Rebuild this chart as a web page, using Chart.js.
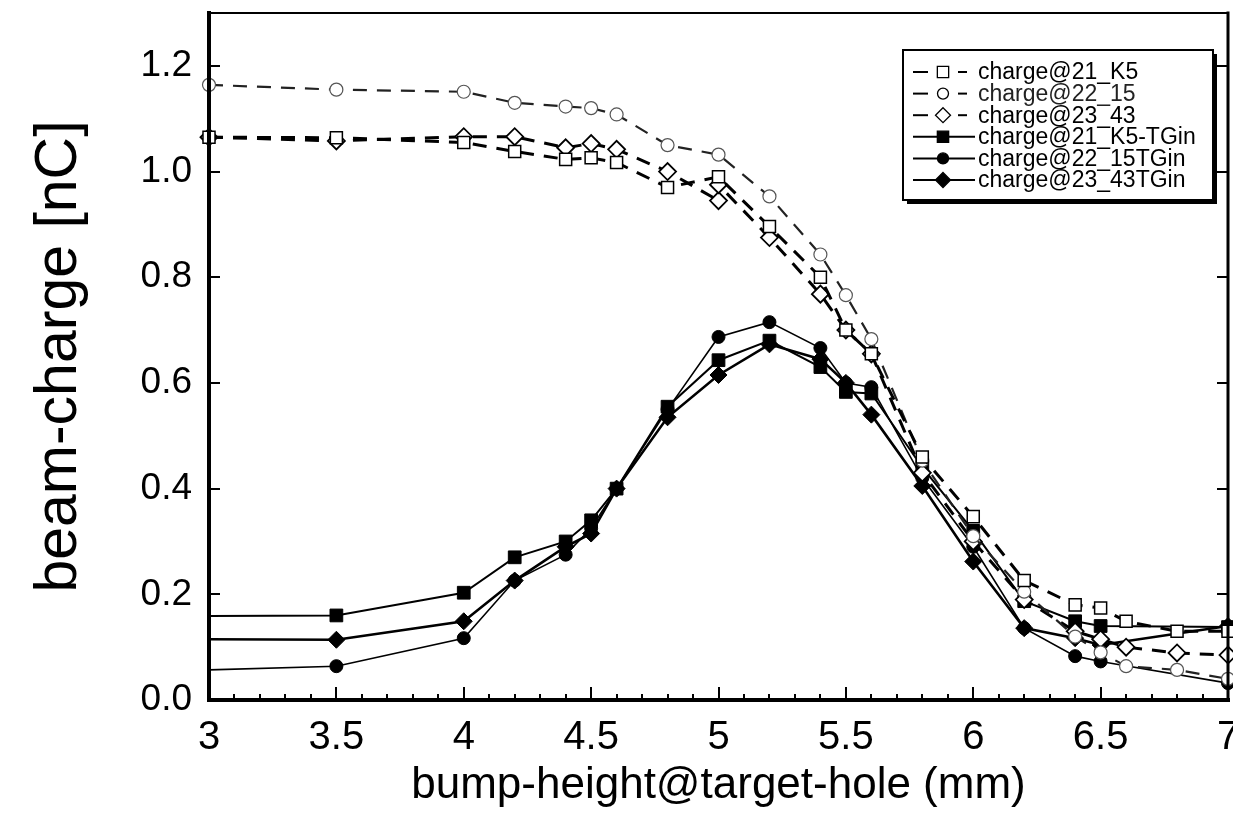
<!DOCTYPE html>
<html lang="en">
<head>
<meta charset="UTF-8">
<title>beam-charge vs bump-height</title>
<script src="https://cdn.jsdelivr.net/npm/chart.js@4"></script>
<style>
  html, body { margin: 0; padding: 0; background: #fff; }
  canvas { display: block; }
</style>
</head>
<body>
<canvas id="chart" width="1233" height="823"></canvas>
<script>
// bump height (mm) positions
const xOpen = [3, 3.5, 4, 4.2, 4.4, 4.5, 4.6, 4.8, 5, 5.2, 5.4, 5.5, 5.6, 5.8, 6, 6.2, 6.4, 6.5, 6.6, 6.8, 7];
const xOpenDiamond = [3, 3.5, 4, 4.2, 4.4, 4.5, 4.6, 4.8, 5, 5, 5.2, 5.4, 5.5, 5.6, 5.8, 6, 6.2, 6.4, 6.5, 6.6, 6.8, 7];
const xFilled = [3, 3.5, 4, 4.2, 4.4, 4.5, 4.6, 4.8, 5, 5.2, 5.4, 5.5, 5.6, 5.8, 6, 6.2, 6.4, 6.5, 7];

// beam charge (nC)
const charge21 = [1.065, 1.064, 1.055, 1.038, 1.023, 1.026, 1.017, 0.97, 0.99, 0.896, 0.80, 0.70, 0.655, 0.46, 0.347, 0.226, 0.18, 0.174, 0.149, 0.13, 0.13];
const charge22 = [1.164, 1.155, 1.151, 1.13, 1.123, 1.12, 1.108, 1.05, 1.032, 0.953, 0.843, 0.766, 0.683, 0.453, 0.31, 0.205, 0.12, 0.09, 0.064, 0.057, 0.04];
const charge23 = [1.065, 1.058, 1.066, 1.066, 1.045, 1.053, 1.042, 1.0, 0.945, 0.975, 0.875, 0.768, 0.70, 0.655, 0.43, 0.30, 0.19, 0.13, 0.115, 0.10, 0.089, 0.085];
const charge21TG = [0.159, 0.16, 0.203, 0.27, 0.30, 0.34, 0.40, 0.555, 0.643, 0.68, 0.63, 0.583, 0.58, 0.44, 0.32, 0.187, 0.149, 0.14, 0.138];
const charge22TG = [0.057, 0.064, 0.117, 0.226, 0.275, 0.325, 0.40, 0.55, 0.687, 0.715, 0.666, 0.60, 0.592, 0.42, 0.29, 0.136, 0.083, 0.073, 0.032];
const charge23TG = [0.115, 0.114, 0.149, 0.226, 0.29, 0.315, 0.40, 0.535, 0.615, 0.673, 0.645, 0.60, 0.54, 0.405, 0.262, 0.136, 0.117, 0.104, 0.14];

const seriesNames = ['charge@21_K5', 'charge@22_15', 'charge@23_43', 'charge@21_K5-TGin', 'charge@22_15TGin', 'charge@23_43TGin'];
const yTicks = [0, 0.2, 0.4, 0.6, 0.8, 1.0, 1.2];

const pts = (xs, ys) => xs.map((x, i) => ({ x: x, y: ys[i] }));

const DASH = [14, 10];
const noFirst = r => ctx => ctx.dataIndex === 0 ? 0 : r;

const datasets = [
  { label: seriesNames[0], data: pts(xOpen, charge21), pointStyle: 'rect', pointRadius: 8.5,
    borderColor: '#000', borderWidth: 3, borderDash: DASH, pointBackgroundColor: '#fff', pointBorderColor: '#000', pointBorderWidth: 1.5 },
  { label: seriesNames[1], data: pts(xOpen, charge22), pointStyle: 'circle', pointRadius: 6.5,
    borderColor: '#222', borderWidth: 2.2, borderDash: DASH, pointBackgroundColor: '#fff', pointBorderColor: '#555', pointBorderWidth: 1.2 },
  { label: seriesNames[2], data: pts(xOpenDiamond, charge23), pointStyle: 'rectRot', pointRadius: 8.5,
    borderColor: '#000', borderWidth: 3, borderDash: DASH, pointBackgroundColor: '#fff', pointBorderColor: '#000', pointBorderWidth: 1.8 },
  { label: seriesNames[3], data: pts(xFilled, charge21TG), pointStyle: 'rect', pointRadius: noFirst(9),
    borderColor: '#000', borderWidth: 2, pointBackgroundColor: '#000', pointBorderColor: '#000', pointBorderWidth: 1 },
  { label: seriesNames[4], data: pts(xFilled, charge22TG), pointStyle: 'circle', pointRadius: noFirst(6.5),
    borderColor: '#000', borderWidth: 1.6, pointBackgroundColor: '#000', pointBorderColor: '#000', pointBorderWidth: 1 },
  { label: seriesNames[5], data: pts(xFilled, charge23TG), pointStyle: 'rectRot', pointRadius: noFirst(8.5),
    borderColor: '#000', borderWidth: 2.6, pointBackgroundColor: '#000', pointBorderColor: '#000', pointBorderWidth: 1 }
];
datasets.forEach(d => { d.fill = false; d.tension = 0; d.clip = false; });

const FONT = '"Liberation Sans", Arial, Helvetica, sans-serif';

// white page
const background = {
  id: 'background',
  beforeDraw(chart) {
    const c = chart.ctx;
    c.save();
    c.fillStyle = '#fff';
    c.fillRect(0, 0, chart.width, chart.height);
    c.restore();
  }
};

// plot frame with inward ticks
const frame = {
  id: 'frame',
  afterDatasetsDraw(chart) {
    const c = chart.ctx;
    const { left, right, top, bottom } = chart.chartArea;
    const xs = chart.scales.x, ys = chart.scales.y;
    c.save();
    c.strokeStyle = '#000';
    c.lineCap = 'square';
    c.lineWidth = 2;
    c.beginPath(); c.moveTo(left, top); c.lineTo(right, top); c.stroke();
    c.lineWidth = 3;
    c.beginPath(); c.moveTo(right, top); c.lineTo(right, bottom); c.stroke();
    c.lineWidth = 4;
    c.beginPath(); c.moveTo(left, top); c.lineTo(left, bottom); c.lineTo(right, bottom); c.stroke();

    c.lineWidth = 2;
    c.lineCap = 'butt';
    for (let i = 30; i <= 70; i++) {
      const px = Math.round(xs.getPixelForValue(i / 10));
      const len = i % 5 === 0 ? 13 : 6;
      c.beginPath(); c.moveTo(px, bottom); c.lineTo(px, bottom - len); c.stroke();
    }
    yTicks.forEach(v => {
      const py = Math.round(ys.getPixelForValue(v));
      c.beginPath(); c.moveTo(left, py); c.lineTo(left + 11, py); c.stroke();
      c.beginPath(); c.moveTo(right, py); c.lineTo(right - 11, py); c.stroke();
    });
    c.restore();
  }
};

function marker(c, style, x, y, r, filled) {
  c.beginPath();
  if (style === 'rect') {
    const s = r * Math.SQRT1_2;
    c.rect(x - s, y - s, 2 * s, 2 * s);
  } else if (style === 'rectRot') {
    c.moveTo(x, y - r); c.lineTo(x + r, y); c.lineTo(x, y + r); c.lineTo(x - r, y); c.closePath();
  } else {
    c.arc(x, y, r, 0, Math.PI * 2);
  }
  c.fillStyle = filled ? '#000' : '#fff';
  c.fill();
  c.stroke();
}

// boxed legend with shadow
const boxLegend = {
  id: 'boxLegend',
  afterDraw(chart) {
    const c = chart.ctx;
    const bx = 903, by = 50, bw = 310, bh = 150;
    c.save();
    c.fillStyle = '#000';
    c.fillRect(bx + 4, by + 4, bw, bh);
    c.fillStyle = '#fff';
    c.fillRect(bx, by, bw, bh);
    c.strokeStyle = '#000';
    c.lineWidth = 2;
    c.strokeRect(bx, by, bw, bh);

    c.font = '23px ' + FONT;
    c.textBaseline = 'middle';
    c.textAlign = 'left';
    chart.data.datasets.forEach((d, i) => {
      const y = 72 + i * 21.6;
      const filled = i >= 3;
      c.strokeStyle = '#000';
      c.lineWidth = 2;
      if (filled) {
        c.beginPath(); c.moveTo(913, y); c.lineTo(975, y); c.stroke();
      } else {
        c.beginPath(); c.moveTo(913, y); c.lineTo(928, y); c.stroke();
        c.beginPath(); c.moveTo(958, y); c.lineTo(967, y); c.stroke();
      }
      c.lineWidth = 1.3;
      const r = d.pointStyle === 'circle' ? 5.5 : (d.pointStyle === 'rect' ? 8 : 7.5);
      marker(c, d.pointStyle, 943, y, r, filled);
      c.fillStyle = i === 1 ? '#222' : '#000';
      c.fillText(d.label, 978, y + 1);
    });
    c.restore();
  }
};

new Chart(document.getElementById('chart'), {
  type: 'line',
  data: { datasets: datasets },
  options: {
    responsive: false,
    animation: false,
    devicePixelRatio: 1,
    layout: { autoPadding: false, padding: { left: 0, right: 5, top: 13, bottom: 0 } },
    plugins: {
      legend: { display: false },
      tooltip: { enabled: false }
    },
    scales: {
      x: {
        type: 'linear',
        min: 3, max: 7,
        afterFit: s => { s.height = 123; s.paddingLeft = 0; s.paddingRight = 0; },
        grid: { display: false },
        border: { display: false },
        ticks: {
          stepSize: 0.5,
          includeBounds: false,
          color: '#000',
          padding: 6,
          maxRotation: 0,
          autoSkip: false,
          font: { family: FONT, size: 40 },
          callback: v => String(v)
        },
        title: {
          display: true,
          text: 'bump-height@target-hole (mm)',
          color: '#000',
          font: { family: FONT, size: 44, lineHeight: 1.2 },
          padding: { top: 0, bottom: 11 }
        }
      },
      y: {
        min: 0, max: 1.3,
        afterFit: s => { s.width = 209; s.paddingTop = 0; s.paddingBottom = 0; },
        grid: { display: false },
        border: { display: false },
        ticks: {
          stepSize: 0.2,
          includeBounds: false,
          color: '#000',
          padding: 9,
          font: { family: FONT, size: 37 },
          callback: v => v.toFixed(1)
        },
        title: {
          display: true,
          text: 'beam-charge [nC]',
          color: '#000',
          font: { family: FONT, size: 59, lineHeight: 1.2 },
          padding: { top: 24, bottom: 0 }
        }
      }
    }
  },
  plugins: [background, frame, boxLegend]
});
</script>
</body>
</html>
